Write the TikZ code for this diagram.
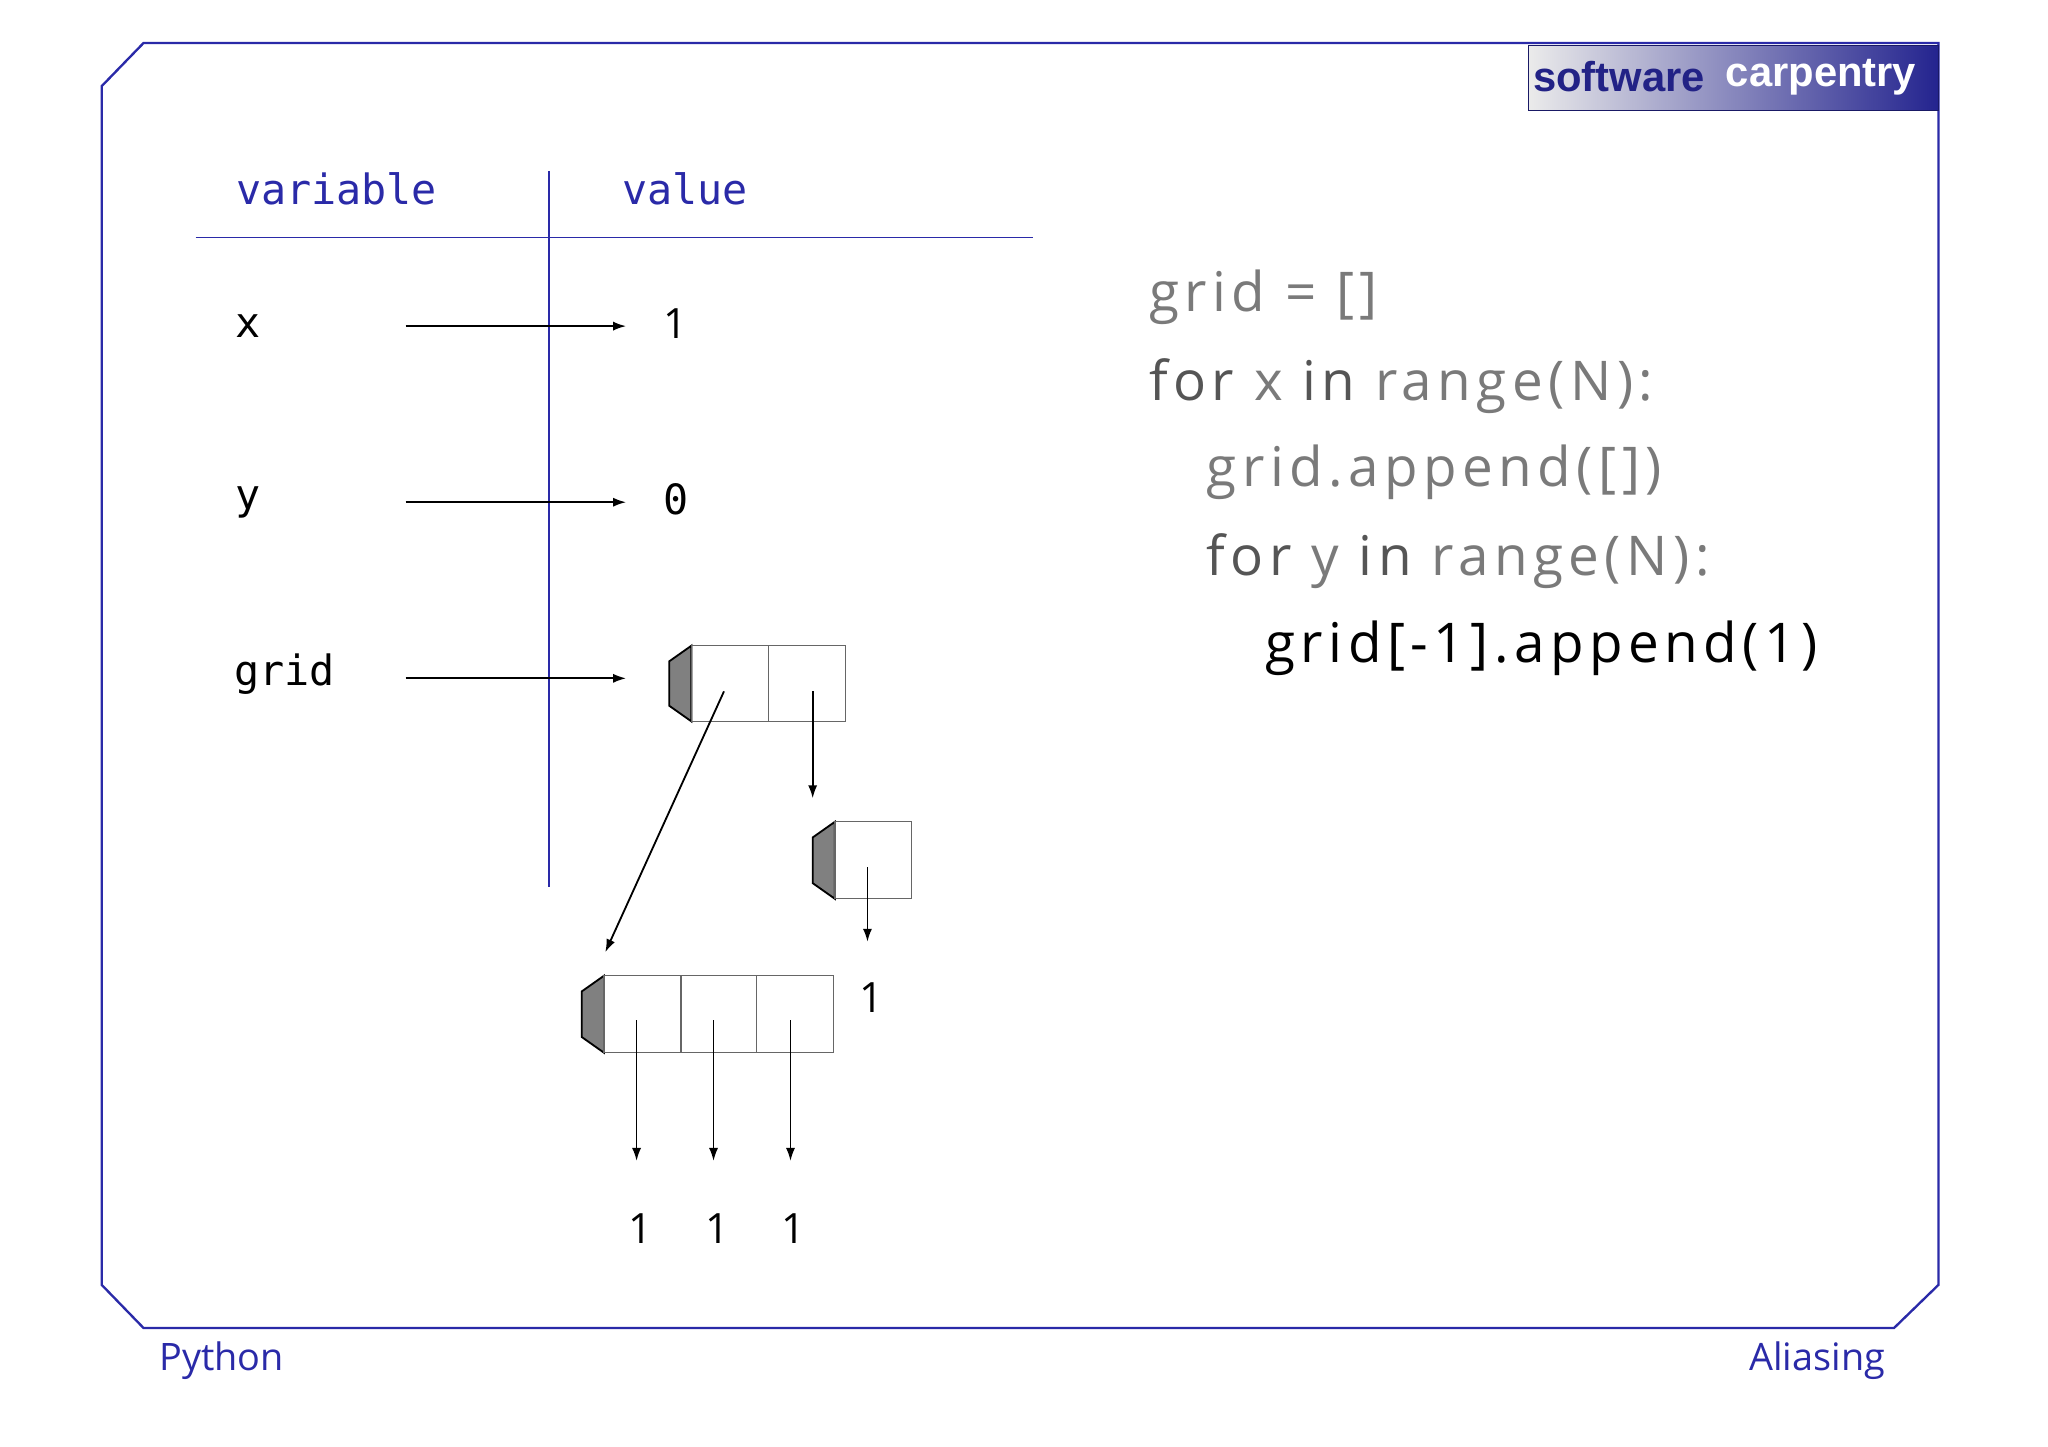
\documentclass[tikz,border=0pt]{standalone}
\usepackage{fontspec}
\setmainfont{Open Sans}
\setmonofont{DejaVu Sans Mono}
\newfontfamily\codefont[LetterSpace=10]{Open Sans}
\newfontfamily\logofont{Liberation Sans}
\usetikzlibrary{arrows.meta}
\definecolor{fb}{HTML}{2A2AA8}
\definecolor{cg}{HTML}{7A7A7A}
\definecolor{kg}{HTML}{555555}
\begin{document}
\begin{tikzpicture}[x=0.5pt,y=-0.5pt,
  frame/.style={draw=fb,line width=0.9pt},
  arr/.style={-{Latex[length=5pt,width=3.5pt]},line width=0.7pt},
  cell/.style={draw=black!60,line width=0.5pt},
  handle/.style={draw=black,fill=black!50,line width=0.7pt},
  hdr/.style={text=fb,font=\ttfamily\fontsize{16}{18}\selectfont},
  var/.style={font=\ttfamily\fontsize{16}{18}\selectfont},
  val/.style={font=\fontsize{16}{18}\selectfont},
  code/.style={anchor=west,font=\codefont\fontsize{21}{24}\selectfont,text=cg},
  foot/.style={text=fb,font=\fontsize{14.5}{18}\selectfont}]
\useasboundingbox (0,0) rectangle (1570,1109);
% frame
\draw[frame] (1486,33) -- (110,33) -- (78,66) -- (78,985) -- (110,1018) -- (1452,1018) -- (1486,985) -- cycle;
% logo
\shade[left color=black!8,right color=fb!85!black] (1172,35) rectangle (1486,85);
\draw[fb!60!black] (1172,35) rectangle (1486,85);
\node[font=\logofont\fontsize{16}{16}\selectfont\bfseries,text=fb!80!black] (lg1) at (1241,59) {software};
\node[font=\logofont\fontsize{16}{16}\selectfont\bfseries,text=white] (lg2) at (1396,59) {carpentry};
% table
\node[hdr] (hv) at (258,145) {variable};
\node[hdr] (hval) at (525,145) {value};
\coordinate (hl1) at (150,182); \coordinate (hl2) at (792,182);
\coordinate (vl1) at (421,131); \coordinate (vl2) at (421,680);
\draw[fb,line width=0.7pt] (hl1) -- (hl2);
\draw[fb,line width=0.7pt] (vl1) -- (vl2);
% rows
\node[var] (vx) at (190,250) {x};
\node[var] (vy) at (190,385) {y};
\node[var] (vg) at (218,517) {grid};
\coordinate (ax) at (311,250); \coordinate (bx) at (480,250);
\coordinate (ay) at (311,385); \coordinate (by) at (480,385);
\coordinate (ag) at (311,520); \coordinate (bg) at (480,520);
\draw[arr] (ax) -- (bx);
\draw[arr] (ay) -- (by);
\draw[arr] (ag) -- (bg);
\node[val] (one) at (518,248) {1};
\node[var] (zero) at (518,383) {0};
% list 1 (outer)
\draw[handle] (513,507) -- (530,495) -- (530,553) -- (513,541) -- cycle;
\draw[cell] (530,495) rectangle (648,553);
\draw[cell] (589,495) -- (589,553);
\coordinate (o1) at (555,530); \coordinate (o1e) at (464,730);
\coordinate (o2) at (623,530); \coordinate (o2e) at (623,612);
\draw[arr] (o1) -- (o1e);
\draw[arr] (o2) -- (o2e);
% list 2
\draw[handle] (623,642) -- (640,630) -- (640,689) -- (623,677) -- cycle;
\draw[cell] (640,630) rectangle (699,689);
\coordinate (s1) at (665,665); \coordinate (s1e) at (665,722);
\draw[arr] (s1) -- (s1e);
\node[val] (s1v) at (668,765) {1};
% list 3
\draw[handle] (446,760) -- (463,748) -- (463,807) -- (446,795) -- cycle;
\draw[cell] (463,748) rectangle (639,807);
\draw[cell] (522,748) -- (522,807);
\draw[cell] (580,748) -- (580,807);
\foreach \xx/\tx [count=\i] in {488/491,547/550,606/608}{
  \coordinate (t\i) at (\xx,782); \coordinate (t\i e) at (\xx,890);
  \draw[arr] (t\i) -- (t\i e);
  \node[val] (tv\i) at (\tx,942) {1};
}
% code
\node[code] (c1) at (874,228) {grid = []};
\node[code] (c2) at (874,296) {\textcolor{kg}{for} x \textcolor{kg}{in} range(N):};
\node[code] (c3) at (918,362) {grid.append([])};
\node[code] (c4) at (918,430) {\textcolor{kg}{for} y \textcolor{kg}{in} range(N):};
\node[code,text=black] (c5) at (963,497) {grid[-1].append(1)};
% footer
\node[foot] (py) at (170,1043) {Python};
\node[foot] (al) at (1393,1043) {Aliasing};
\end{tikzpicture}
\end{document}
